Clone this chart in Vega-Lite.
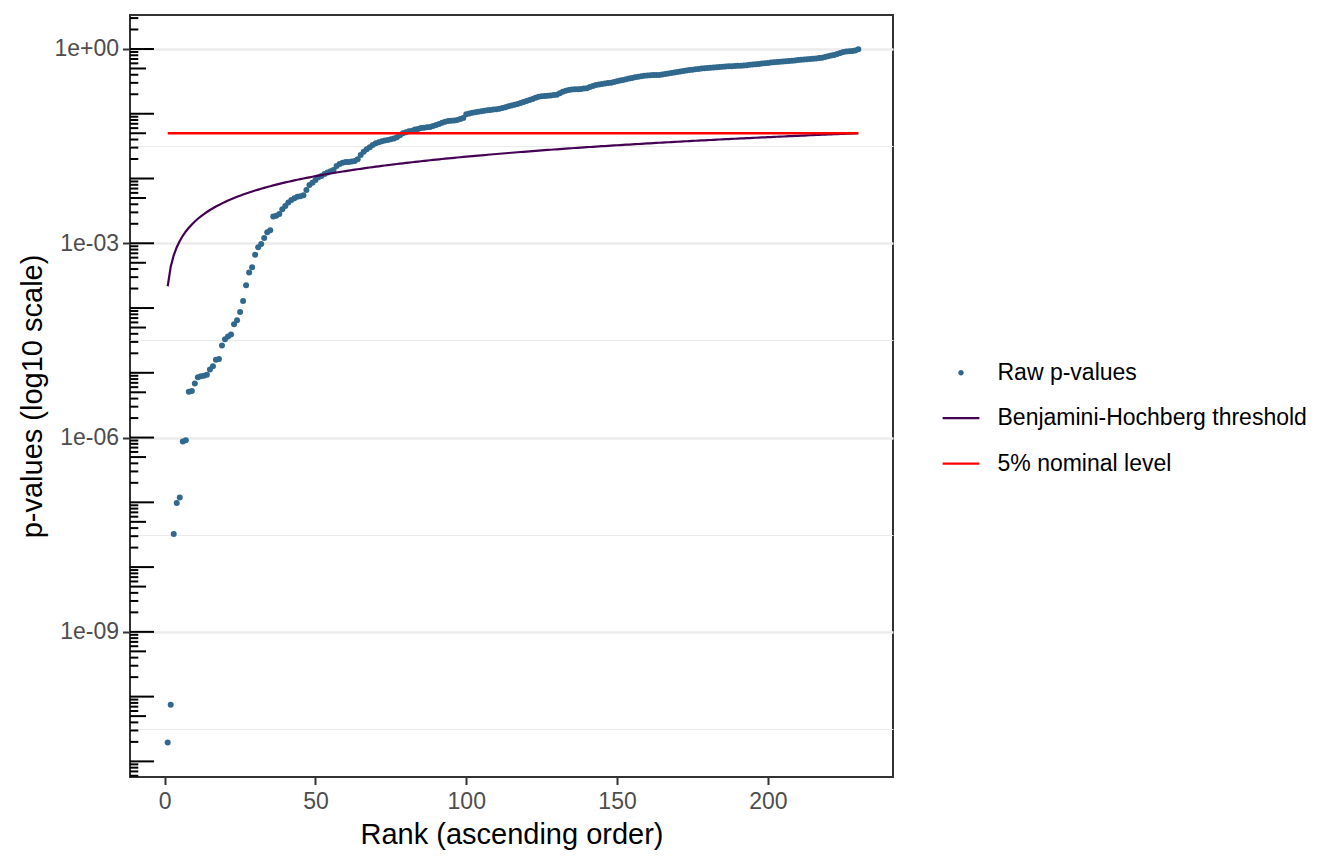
{
"$schema": "https://vega.github.io/schema/vega-lite/v6.json",
"width": 763,
"height": 762,
"autosize": {"type": "none"},
"padding": {"left": 130, "top": 15, "right": 451, "bottom": 87},
"background": "white",
"config": {"view": {"stroke": "#333333", "strokeWidth": 2}, "font": "Liberation Sans"},
"datasets": {
"pvals": [
{"rank":1,"p":1.95e-11,"bh":0.000217},{"rank":2,"p":7.5e-11,"bh":0.000435},{"rank":3,"p":3.24e-8,"bh":0.000652},{"rank":4,"p":9.77e-8,"bh":0.00087},{"rank":5,"p":1.19e-7,"bh":0.001087},{"rank":6,"p":8.71e-7,"bh":0.001304},{"rank":7,"p":9.12e-7,"bh":0.001522},{"rank":8,"p":5.08e-6,"bh":0.001739},{"rank":9,"p":5.25e-6,"bh":0.001957},{"rank":10,"p":6.82e-6,"bh":0.002174},
{"rank":11,"p":8.51e-6,"bh":0.002391},{"rank":12,"p":8.81e-6,"bh":0.002609},{"rank":13,"p":8.99e-6,"bh":0.002826},{"rank":14,"p":9.33e-6,"bh":0.003043},{"rank":15,"p":1.122e-5,"bh":0.003261},{"rank":16,"p":1.259e-5,"bh":0.003478},{"rank":17,"p":1.585e-5,"bh":0.003696},{"rank":18,"p":1.64e-5,"bh":0.003913},{"rank":19,"p":2.63e-5,"bh":0.00413},{"rank":20,"p":3.31e-5,"bh":0.004348},
{"rank":21,"p":3.63e-5,"bh":0.004565},{"rank":22,"p":3.89e-5,"bh":0.004783},{"rank":23,"p":5.62e-5,"bh":0.005},{"rank":24,"p":6.46e-5,"bh":0.005217},{"rank":25,"p":8.71e-5,"bh":0.005435},{"rank":26,"p":1.288e-4,"bh":0.005652},{"rank":27,"p":2.24e-4,"bh":0.00587},{"rank":28,"p":3.55e-4,"bh":0.006087},{"rank":29,"p":4.27e-4,"bh":0.006304},{"rank":30,"p":6.68e-4,"bh":0.006522},
{"rank":31,"p":8.71e-4,"bh":0.006739},{"rank":32,"p":9.77e-4,"bh":0.006957},{"rank":33,"p":1.202e-3,"bh":0.007174},{"rank":34,"p":1.479e-3,"bh":0.007391},{"rank":35,"p":1.585e-3,"bh":0.007609},{"rank":36,"p":2.58e-3,"bh":0.007826},{"rank":37,"p":2.67e-3,"bh":0.008043},{"rank":38,"p":2.84e-3,"bh":0.008261},{"rank":39,"p":3.36e-3,"bh":0.008478},{"rank":40,"p":3.78e-3,"bh":0.008696},
{"rank":41,"p":4.25e-3,"bh":0.008913},{"rank":42,"p":4.67e-3,"bh":0.00913},{"rank":43,"p":4.97e-3,"bh":0.009348},{"rank":44,"p":5.25e-3,"bh":0.009565},{"rank":45,"p":5.33e-3,"bh":0.009783},{"rank":46,"p":5.52e-3,"bh":0.01},{"rank":47,"p":6.67e-3,"bh":0.010217},{"rank":48,"p":7.96e-3,"bh":0.010435},{"rank":49,"p":8.63e-3,"bh":0.010652},{"rank":50,"p":9.51e-3,"bh":0.01087},
{"rank":51,"p":0.01047,"bh":0.011087},{"rank":52,"p":0.01096,"bh":0.011304},{"rank":53,"p":0.01178,"bh":0.011522},{"rank":54,"p":0.01233,"bh":0.011739},{"rank":55,"p":0.01294,"bh":0.011957},{"rank":56,"p":0.01355,"bh":0.012174},{"rank":57,"p":0.01563,"bh":0.012391},{"rank":58,"p":0.01679,"bh":0.012609},{"rank":59,"p":0.01758,"bh":0.012826},{"rank":60,"p":0.01803,"bh":0.013043},
{"rank":61,"p":0.01805,"bh":0.013261},{"rank":62,"p":0.01824,"bh":0.013478},{"rank":63,"p":0.01866,"bh":0.013696},{"rank":64,"p":0.01986,"bh":0.013913},{"rank":65,"p":0.02312,"bh":0.01413},{"rank":66,"p":0.026,"bh":0.014348},{"rank":67,"p":0.0283,"bh":0.014565},{"rank":68,"p":0.0304,"bh":0.014783},{"rank":69,"p":0.033,"bh":0.015},{"rank":70,"p":0.0351,"bh":0.015217},
{"rank":71,"p":0.0363,"bh":0.015435},{"rank":72,"p":0.0376,"bh":0.015652},{"rank":73,"p":0.0385,"bh":0.01587},{"rank":74,"p":0.0394,"bh":0.016087},{"rank":75,"p":0.0404,"bh":0.016304},{"rank":76,"p":0.0413,"bh":0.016522},{"rank":77,"p":0.0434,"bh":0.016739},{"rank":78,"p":0.0466,"bh":0.016957},{"rank":79,"p":0.05,"bh":0.017174},{"rank":80,"p":0.0518,"bh":0.017391},
{"rank":81,"p":0.0537,"bh":0.017609},{"rank":82,"p":0.0548,"bh":0.017826},{"rank":83,"p":0.0569,"bh":0.018043},{"rank":84,"p":0.0582,"bh":0.018261},{"rank":85,"p":0.06,"bh":0.018478},{"rank":86,"p":0.061,"bh":0.018696},{"rank":87,"p":0.0617,"bh":0.018913},{"rank":88,"p":0.0624,"bh":0.01913},{"rank":89,"p":0.0645,"bh":0.019348},{"rank":90,"p":0.0668,"bh":0.019565},
{"rank":91,"p":0.0695,"bh":0.019783},{"rank":92,"p":0.0728,"bh":0.02},{"rank":93,"p":0.0755,"bh":0.020217},{"rank":94,"p":0.0772,"bh":0.020435},{"rank":95,"p":0.078,"bh":0.020652},{"rank":96,"p":0.079,"bh":0.02087},{"rank":97,"p":0.0802,"bh":0.021087},{"rank":98,"p":0.083,"bh":0.021304},{"rank":99,"p":0.0862,"bh":0.021522},{"rank":100,"p":0.0985,"bh":0.021739},
{"rank":101,"p":0.101,"bh":0.021957},{"rank":102,"p":0.104,"bh":0.022174},{"rank":103,"p":0.1058,"bh":0.022391},{"rank":104,"p":0.1075,"bh":0.022609},{"rank":105,"p":0.1095,"bh":0.022826},{"rank":106,"p":0.1115,"bh":0.023043},{"rank":107,"p":0.1128,"bh":0.023261},{"rank":108,"p":0.1142,"bh":0.023478},{"rank":109,"p":0.1158,"bh":0.023696},{"rank":110,"p":0.1172,"bh":0.023913},
{"rank":111,"p":0.1195,"bh":0.02413},{"rank":112,"p":0.1225,"bh":0.024348},{"rank":113,"p":0.1259,"bh":0.024565},{"rank":114,"p":0.13,"bh":0.024783},{"rank":115,"p":0.134,"bh":0.025},{"rank":116,"p":0.138,"bh":0.025217},{"rank":117,"p":0.1416,"bh":0.025435},{"rank":118,"p":0.147,"bh":0.025652},{"rank":119,"p":0.152,"bh":0.02587},{"rank":120,"p":0.158,"bh":0.026087},
{"rank":121,"p":0.1633,"bh":0.026304},{"rank":122,"p":0.169,"bh":0.026522},{"rank":123,"p":0.176,"bh":0.026739},{"rank":124,"p":0.1837,"bh":0.026957},{"rank":125,"p":0.186,"bh":0.027174},{"rank":126,"p":0.188,"bh":0.027391},{"rank":127,"p":0.19,"bh":0.027609},{"rank":128,"p":0.192,"bh":0.027826},{"rank":129,"p":0.194,"bh":0.028043},{"rank":130,"p":0.196,"bh":0.028261},
{"rank":131,"p":0.207,"bh":0.028478},{"rank":132,"p":0.219,"bh":0.028696},{"rank":133,"p":0.226,"bh":0.028913},{"rank":134,"p":0.233,"bh":0.02913},{"rank":135,"p":0.236,"bh":0.029348},{"rank":136,"p":0.238,"bh":0.029565},{"rank":137,"p":0.24,"bh":0.029783},{"rank":138,"p":0.242,"bh":0.03},{"rank":139,"p":0.245,"bh":0.030217},{"rank":140,"p":0.247,"bh":0.030435},
{"rank":141,"p":0.258,"bh":0.030652},{"rank":142,"p":0.268,"bh":0.03087},{"rank":143,"p":0.278,"bh":0.031087},{"rank":144,"p":0.283,"bh":0.031304},{"rank":145,"p":0.288,"bh":0.031522},{"rank":146,"p":0.293,"bh":0.031739},{"rank":147,"p":0.298,"bh":0.031957},{"rank":148,"p":0.302,"bh":0.032174},{"rank":149,"p":0.309,"bh":0.032391},{"rank":150,"p":0.317,"bh":0.032609},
{"rank":151,"p":0.325,"bh":0.032826},{"rank":152,"p":0.333,"bh":0.033043},{"rank":153,"p":0.341,"bh":0.033261},{"rank":154,"p":0.349,"bh":0.033478},{"rank":155,"p":0.357,"bh":0.033696},{"rank":156,"p":0.365,"bh":0.033913},{"rank":157,"p":0.372,"bh":0.03413},{"rank":158,"p":0.379,"bh":0.034348},{"rank":159,"p":0.385,"bh":0.034565},{"rank":160,"p":0.39,"bh":0.034783},
{"rank":161,"p":0.393,"bh":0.035},{"rank":162,"p":0.395,"bh":0.035217},{"rank":163,"p":0.396,"bh":0.035435},{"rank":164,"p":0.397,"bh":0.035652},{"rank":165,"p":0.404,"bh":0.03587},{"rank":166,"p":0.411,"bh":0.036087},{"rank":167,"p":0.419,"bh":0.036304},{"rank":168,"p":0.427,"bh":0.036522},{"rank":169,"p":0.434,"bh":0.036739},{"rank":170,"p":0.441,"bh":0.036957},
{"rank":171,"p":0.449,"bh":0.037174},{"rank":172,"p":0.457,"bh":0.037391},{"rank":173,"p":0.465,"bh":0.037609},{"rank":174,"p":0.474,"bh":0.037826},{"rank":175,"p":0.48,"bh":0.038043},{"rank":176,"p":0.486,"bh":0.038261},{"rank":177,"p":0.492,"bh":0.038478},{"rank":178,"p":0.498,"bh":0.038696},{"rank":179,"p":0.504,"bh":0.038913},{"rank":180,"p":0.509,"bh":0.03913},
{"rank":181,"p":0.514,"bh":0.039348},{"rank":182,"p":0.519,"bh":0.039565},{"rank":183,"p":0.524,"bh":0.039783},{"rank":184,"p":0.529,"bh":0.04},{"rank":185,"p":0.533,"bh":0.040217},{"rank":186,"p":0.536,"bh":0.040435},{"rank":187,"p":0.539,"bh":0.040652},{"rank":188,"p":0.543,"bh":0.04087},{"rank":189,"p":0.546,"bh":0.041087},{"rank":190,"p":0.549,"bh":0.041304},
{"rank":191,"p":0.552,"bh":0.041522},{"rank":192,"p":0.557,"bh":0.041739},{"rank":193,"p":0.563,"bh":0.041957},{"rank":194,"p":0.569,"bh":0.042174},{"rank":195,"p":0.575,"bh":0.042391},{"rank":196,"p":0.581,"bh":0.042609},{"rank":197,"p":0.588,"bh":0.042826},{"rank":198,"p":0.596,"bh":0.043043},{"rank":199,"p":0.603,"bh":0.043261},{"rank":200,"p":0.61,"bh":0.043478},
{"rank":201,"p":0.617,"bh":0.043696},{"rank":202,"p":0.624,"bh":0.043913},{"rank":203,"p":0.63,"bh":0.04413},{"rank":204,"p":0.636,"bh":0.044348},{"rank":205,"p":0.642,"bh":0.044565},{"rank":206,"p":0.648,"bh":0.044783},{"rank":207,"p":0.653,"bh":0.045},{"rank":208,"p":0.66,"bh":0.045217},{"rank":209,"p":0.667,"bh":0.045435},{"rank":210,"p":0.674,"bh":0.045652},
{"rank":211,"p":0.681,"bh":0.04587},{"rank":212,"p":0.687,"bh":0.046087},{"rank":213,"p":0.693,"bh":0.046304},{"rank":214,"p":0.7,"bh":0.046522},{"rank":215,"p":0.707,"bh":0.046739},{"rank":216,"p":0.715,"bh":0.046957},{"rank":217,"p":0.725,"bh":0.047174},{"rank":218,"p":0.735,"bh":0.047391},{"rank":219,"p":0.752,"bh":0.047609},{"rank":220,"p":0.772,"bh":0.047826},
{"rank":221,"p":0.795,"bh":0.048043},{"rank":222,"p":0.807,"bh":0.048261},{"rank":223,"p":0.835,"bh":0.048478},{"rank":224,"p":0.868,"bh":0.048696},{"rank":225,"p":0.9,"bh":0.048913},{"rank":226,"p":0.915,"bh":0.04913},{"rank":227,"p":0.925,"bh":0.049348},{"rank":228,"p":0.931,"bh":0.049565},{"rank":229,"p":0.945,"bh":0.049783},{"rank":230,"p":0.99,"bh":0.05}
],
"nominal": [{"rank":1,"level":0.05},{"rank":230,"level":0.05}],
"logticks": [
{"value":6e-12,"kind":"short"},{"value":7e-12,"kind":"short"},{"value":8e-12,"kind":"short"},{"value":9e-12,"kind":"short"},
{"value":1e-11,"kind":"long"},{"value":2e-11,"kind":"short"},{"value":3e-11,"kind":"short"},{"value":4e-11,"kind":"short"},{"value":5e-11,"kind":"mid"},{"value":6e-11,"kind":"short"},{"value":7e-11,"kind":"short"},{"value":8e-11,"kind":"short"},{"value":9e-11,"kind":"short"},
{"value":1e-10,"kind":"long"},{"value":2e-10,"kind":"short"},{"value":3e-10,"kind":"short"},{"value":4e-10,"kind":"short"},{"value":5e-10,"kind":"mid"},{"value":6e-10,"kind":"short"},{"value":7e-10,"kind":"short"},{"value":8e-10,"kind":"short"},{"value":9e-10,"kind":"short"},
{"value":1e-9,"kind":"long"},{"value":2e-9,"kind":"short"},{"value":3e-9,"kind":"short"},{"value":4e-9,"kind":"short"},{"value":5e-9,"kind":"mid"},{"value":6e-9,"kind":"short"},{"value":7e-9,"kind":"short"},{"value":8e-9,"kind":"short"},{"value":9e-9,"kind":"short"},
{"value":1e-8,"kind":"long"},{"value":2e-8,"kind":"short"},{"value":3e-8,"kind":"short"},{"value":4e-8,"kind":"short"},{"value":5e-8,"kind":"mid"},{"value":6e-8,"kind":"short"},{"value":7e-8,"kind":"short"},{"value":8e-8,"kind":"short"},{"value":9e-8,"kind":"short"},
{"value":1e-7,"kind":"long"},{"value":2e-7,"kind":"short"},{"value":3e-7,"kind":"short"},{"value":4e-7,"kind":"short"},{"value":5e-7,"kind":"mid"},{"value":6e-7,"kind":"short"},{"value":7e-7,"kind":"short"},{"value":8e-7,"kind":"short"},{"value":9e-7,"kind":"short"},
{"value":1e-6,"kind":"long"},{"value":2e-6,"kind":"short"},{"value":3e-6,"kind":"short"},{"value":4e-6,"kind":"short"},{"value":5e-6,"kind":"mid"},{"value":6e-6,"kind":"short"},{"value":7e-6,"kind":"short"},{"value":8e-6,"kind":"short"},{"value":9e-6,"kind":"short"},
{"value":1e-5,"kind":"long"},{"value":2e-5,"kind":"short"},{"value":3e-5,"kind":"short"},{"value":4e-5,"kind":"short"},{"value":5e-5,"kind":"mid"},{"value":6e-5,"kind":"short"},{"value":7e-5,"kind":"short"},{"value":8e-5,"kind":"short"},{"value":9e-5,"kind":"short"},
{"value":1e-4,"kind":"long"},{"value":2e-4,"kind":"short"},{"value":3e-4,"kind":"short"},{"value":4e-4,"kind":"short"},{"value":5e-4,"kind":"mid"},{"value":6e-4,"kind":"short"},{"value":7e-4,"kind":"short"},{"value":8e-4,"kind":"short"},{"value":9e-4,"kind":"short"},
{"value":0.001,"kind":"long"},{"value":0.002,"kind":"short"},{"value":0.003,"kind":"short"},{"value":0.004,"kind":"short"},{"value":0.005,"kind":"mid"},{"value":0.006,"kind":"short"},{"value":0.007,"kind":"short"},{"value":0.008,"kind":"short"},{"value":0.009,"kind":"short"},
{"value":0.01,"kind":"long"},{"value":0.02,"kind":"short"},{"value":0.03,"kind":"short"},{"value":0.04,"kind":"short"},{"value":0.05,"kind":"mid"},{"value":0.06,"kind":"short"},{"value":0.07,"kind":"short"},{"value":0.08,"kind":"short"},{"value":0.09,"kind":"short"},
{"value":0.1,"kind":"long"},{"value":0.2,"kind":"short"},{"value":0.3,"kind":"short"},{"value":0.4,"kind":"short"},{"value":0.5,"kind":"mid"},{"value":0.6,"kind":"short"},{"value":0.7,"kind":"short"},{"value":0.8,"kind":"short"},{"value":0.9,"kind":"short"},
{"value":1,"kind":"long"},{"value":2,"kind":"short"},{"value":3,"kind":"short"}
]
},
"layer": [
{
"data": {"name": "pvals"},
"mark": {"type": "point", "filled": true, "size": 36, "opacity": 1},
"encoding": {
"x": {"field": "rank", "type": "quantitative", "scale": {"domain": [-11.5, 241.5], "nice": false, "zero": false},
"axis": {"title": "Rank (ascending order)", "values": [0, 50, 100, 150, 200], "grid": false, "domain": false, "tickSize": 7.5, "tickWidth": 2, "tickColor": "#333333", "labelFont": "Liberation Sans", "labelFontSize": 23, "labelColor": "#4D4D4D", "labelPadding": 5.5, "titleFont": "Liberation Sans", "titleFontSize": 29, "titleFontWeight": "normal", "titleColor": "#000000", "titlePadding": 7}},
"y": {"field": "p", "type": "quantitative", "scale": {"type": "log", "domain": [5.74e-12, 3.348], "nice": false},
"axis": {"title": "p-values (log10 scale)", "values": [1, 0.001, 1e-6, 1e-9], "labelExpr": "'1e' + (datum.value >= 1 ? '+00' : '-' + (round(-log(datum.value)/LN10) < 10 ? '0' : '') + round(-log(datum.value)/LN10))", "grid": true, "gridColor": "#EBEBEB", "gridWidth": 2.3, "domain": false, "tickSize": 7.5, "tickWidth": 2, "tickColor": "#333333", "labelFont": "Liberation Sans", "labelFontSize": 23, "labelColor": "#4D4D4D", "labelPadding": 4, "titleFont": "Liberation Sans", "titleFontSize": 29, "titleFontWeight": "normal", "titleColor": "#000000", "titlePadding": 6}},
"color": {"datum": "Raw p-values", "type": "nominal",
"scale": {"domain": ["Raw p-values", "Benjamini-Hochberg threshold", "5% nominal level"], "range": ["#31688E", "#440154", "#FF0000"]},
"legend": {"title": null, "orient": "none", "legendX": 811.5, "legendY": 337.7, "padding": 0, "labelFont": "Liberation Sans", "labelFontSize": 23, "labelColor": "#000000", "labelOffset": 17, "labelLimit": 500, "clipHeight": 40, "rowPadding": 5.5, "symbolOffset": 0, "symbolSize": 1350, "symbolStrokeWidth": 2.2,
"encoding": {"symbols": {
"shape": {"value": {"expr": "datum.value === 'Raw p-values' ? 'M-0.09,0A0.09,0.09,0,1,1,0.09,0A0.09,0.09,0,1,1,-0.09,0Z' : 'stroke'"}},
"fill": {"value": {"expr": "datum.value === 'Raw p-values' ? '#31688E' : 'transparent'"}},
"stroke": {"value": {"expr": "datum.value === 'Raw p-values' ? 'transparent' : (datum.value === 'Benjamini-Hochberg threshold' ? '#440154' : '#FF0000')"}},
"opacity": {"value": 1}
}}}}
}
},
{
"data": {"name": "pvals"},
"mark": {"type": "line", "strokeWidth": 2.2},
"encoding": {
"x": {"field": "rank", "type": "quantitative", "scale": {"domain": [-11.5, 241.5], "nice": false, "zero": false}},
"y": {"field": "bh", "type": "quantitative", "scale": {"type": "log", "domain": [5.74e-12, 3.348], "nice": false},
"axis": {"orient": "left", "title": null, "values": [0.0316228, 3.16228e-5, 3.16228e-8, 3.16228e-11], "grid": true, "gridColor": "#EBEBEB", "gridWidth": 1.2, "ticks": false, "labels": false, "domain": false}},
"color": {"datum": "Benjamini-Hochberg threshold", "type": "nominal"}
}
},
{
"data": {"name": "nominal"},
"mark": {"type": "line", "strokeWidth": 2.7},
"encoding": {
"x": {"field": "rank", "type": "quantitative", "scale": {"domain": [-11.5, 241.5], "nice": false, "zero": false}},
"y": {"field": "level", "type": "quantitative", "scale": {"type": "log", "domain": [5.74e-12, 3.348], "nice": false}, "axis": null},
"color": {"datum": "5% nominal level", "type": "nominal"}
}
},
{
"data": {"name": "logticks"},
"transform": [{"filter": "datum.kind === 'long'"}],
"mark": {"type": "rule", "color": "#000000", "strokeWidth": 2},
"encoding": {
"x": {"datum": -11.5, "type": "quantitative", "scale": {"domain": [-11.5, 241.5], "nice": false, "zero": false}},
"x2": {"datum": -3.54},
"y": {"field": "value", "type": "quantitative", "scale": {"type": "log", "domain": [5.74e-12, 3.348], "nice": false}, "axis": null}
}
},
{
"data": {"name": "logticks"},
"transform": [{"filter": "datum.kind === 'mid'"}],
"mark": {"type": "rule", "color": "#000000", "strokeWidth": 2},
"encoding": {
"x": {"datum": -11.5, "type": "quantitative", "scale": {"domain": [-11.5, 241.5], "nice": false, "zero": false}},
"x2": {"datum": -6.2},
"y": {"field": "value", "type": "quantitative", "scale": {"type": "log", "domain": [5.74e-12, 3.348], "nice": false}, "axis": null}
}
},
{
"data": {"name": "logticks"},
"transform": [{"filter": "datum.kind === 'short'"}],
"mark": {"type": "rule", "color": "#000000", "strokeWidth": 2},
"encoding": {
"x": {"datum": -11.5, "type": "quantitative", "scale": {"domain": [-11.5, 241.5], "nice": false, "zero": false}},
"x2": {"datum": -8.75},
"y": {"field": "value", "type": "quantitative", "scale": {"type": "log", "domain": [5.74e-12, 3.348], "nice": false}, "axis": null}
}
}
],
"resolve": {"axis": {"y": "independent"}}
}
